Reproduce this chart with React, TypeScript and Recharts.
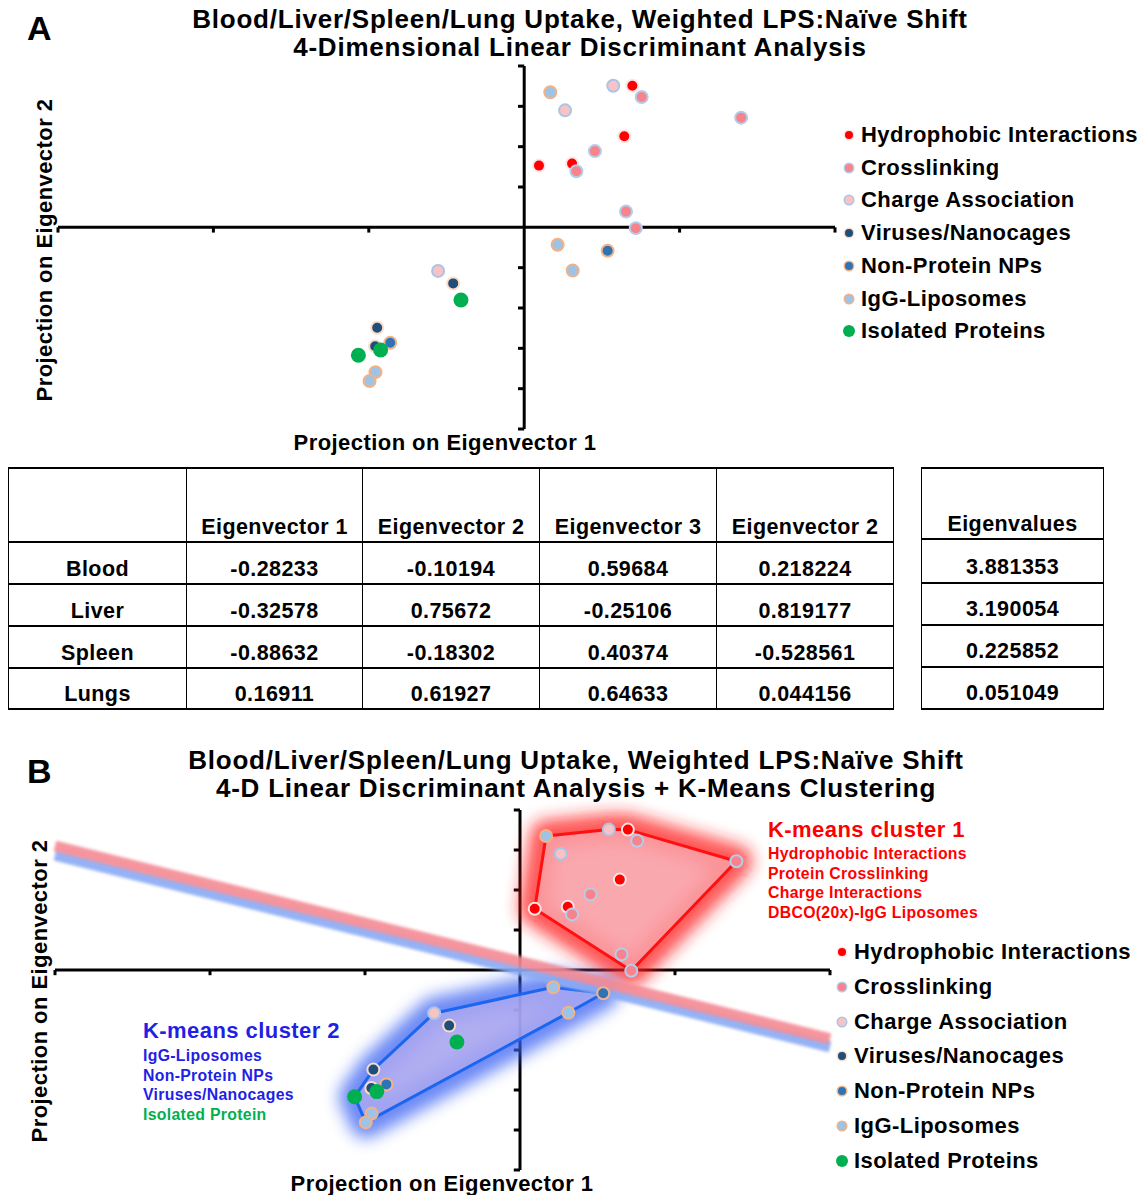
import React from "react";
import { ScatterChart, Scatter, XAxis, YAxis, ReferenceLine } from "recharts";

// projections on eigenvector 1 / 2
const hydrophobic = [
  { x: 0.696, y: 3.51 }, { x: 0.644, y: 2.26 }, { x: 0.095, y: 1.53 }, { x: 0.308, y: 1.58 },
];
const crosslinking = [
  { x: 0.756, y: 3.23 }, { x: 1.396, y: 2.72 }, { x: 0.455, y: 1.89 },
  { x: 0.336, y: 1.39 }, { x: 0.655, y: 0.39 }, { x: 0.718, y: -0.02 },
];
const chargeAssociation = [
  { x: 0.573, y: 3.51 }, { x: 0.263, y: 2.9 }, { x: -0.554, y: -1.08 },
];
const viruses = [
  { x: -0.457, y: -1.39 }, { x: -0.946, y: -2.49 }, { x: -0.959, y: -2.95 },
];
const nonProteinNPs = [
  { x: 0.537, y: -0.58 }, { x: -0.862, y: -2.86 },
];
const iggLiposomes = [
  { x: 0.168, y: 3.35 }, { x: 0.215, y: -0.43 }, { x: 0.312, y: -1.07 },
  { x: -0.957, y: -3.59 }, { x: -0.995, y: -3.81 },
];
const isolatedProteins = [
  { x: -0.407, y: -1.8 }, { x: -0.924, y: -3.04 }, { x: -1.067, y: -3.17 },
];

// k-means hulls + boundary
const cluster1Hull = [
  { x: 0.168, y: 3.35 }, { x: 0.573, y: 3.51 }, { x: 0.696, y: 3.51 },
  { x: 1.396, y: 2.72 }, { x: 0.718, y: -0.02 }, { x: 0.095, y: 1.53 },
];
const cluster2Hull = [
  { x: -0.554, y: -1.08 }, { x: 0.215, y: -0.43 }, { x: 0.537, y: -0.58 },
  { x: 0.312, y: -1.07 }, { x: -0.995, y: -3.81 }, { x: -1.067, y: -3.17 },
  { x: -0.946, y: -2.49 },
];
const boundaryRed = [{ x: -3, y: 3.1 }, { x: 2, y: -1.72 }];
const boundaryBlue = [{ x: -3, y: 2.87 }, { x: 2, y: -1.92 }];

const xTicks = [-3, -2, -1, 1, 2];
const yTicks = [-5, -4, -3, -2, -1, 1, 2, 3, 4];

const cluster1Labels = ["Hydrophobic Interactions", "Protein Crosslinking", "Charge Interactions", "DBCO(20x)-IgG Liposomes"];
const cluster2Labels = ["IgG-Liposomes", "Non-Protein NPs", "Viruses/Nanocages"];

// table
const organs = ["Blood", "Liver", "Spleen", "Lungs"];
const vectorHeaders = ["Eigenvector 1", "Eigenvector 2", "Eigenvector 3", "Eigenvector 2"];
const eigenvector1 = ["-0.28233", "-0.32578", "-0.88632", "0.16911"];
const eigenvector2 = ["-0.10194", "0.75672", "-0.18302", "0.61927"];
const eigenvector3 = ["0.59684", "-0.25106", "0.40374", "0.64633"];
const eigenvector4 = ["0.218224", "0.819177", "-0.528561", "0.044156"];
const eigenvalues = ["3.881353", "3.190054", "0.225852", "0.051049"];

const series = [
  { name: "Hydrophobic Interactions", data: hydrophobic, fill: "#ff0000", stroke: "#fde4e6" },
  { name: "Crosslinking", data: crosslinking, fill: "#f7848c", stroke: "#b3cdea" },
  { name: "Charge Association", data: chargeAssociation, fill: "#f9c2c5", stroke: "#a8c5e6" },
  { name: "Viruses/Nanocages", data: viruses, fill: "#1f4e79", stroke: "#fadcc8" },
  { name: "Non-Protein NPs", data: nonProteinNPs, fill: "#2e74b5", stroke: "#f4b48a" },
  { name: "IgG-Liposomes", data: iggLiposomes, fill: "#9dc3e6", stroke: "#f4b183" },
  { name: "Isolated Proteins", data: isolatedProteins, fill: "#00b050", stroke: "none" },
];

const FONT = '"Liberation Sans", Arial, Helvetica, sans-serif';
const bold: React.CSSProperties = { fontFamily: FONT, fontWeight: 700, color: "#000", letterSpacing: "0.02em", whiteSpace: "nowrap" };

const dot = (fill: string, stroke: string) => (p: any) => {
  const green = stroke === "none";
  return (
    <circle cx={p.cx} cy={p.cy} r={green ? 7.5 : 6} fill={fill}
      stroke={green ? "none" : stroke} strokeWidth={2} />
  );
};

const noShape = () => <g />;

const hull = (id: string, line: string, halo: string, inner: string) => (p: any) => {
  const pts = (p.points || []).map((q: any) => `${q.x},${q.y}`).join(" ");
  return (
    <g>
      <defs>
        <filter id={id} x="-40%" y="-40%" width="180%" height="180%">
          <feGaussianBlur stdDeviation="8" />
        </filter>
      </defs>
      <polygon points={pts} fill={inner} stroke={halo} strokeWidth={32} strokeLinejoin="round"
        opacity={0.75} filter={`url(#${id})`} />
      <polygon points={pts} fill={inner} opacity={0.8} />
      <polygon points={pts} fill="none" stroke={line} strokeWidth={3} strokeLinejoin="round" />
    </g>
  );
};

const blurLine = (id: string, color: string) => (p: any) => {
  const pts = p.points || [];
  if (pts.length < 2) return <g />;
  return (
    <g>
      <defs>
        <filter id={id} x="-10%" y="-50%" width="120%" height="200%">
          <feGaussianBlur stdDeviation="1.8" />
        </filter>
      </defs>
      <line x1={pts[0].x} y1={pts[0].y} x2={pts[1].x} y2={pts[1].y}
        stroke={color} strokeWidth={11} opacity={0.9} filter={`url(#${id})`} />
    </g>
  );
};

const Axes = () => (
  <>
    <ReferenceLine x={0} stroke="#000" strokeWidth={3} ifOverflow="visible" />
    <ReferenceLine y={0} stroke="#000" strokeWidth={3} ifOverflow="visible" />
    {xTicks.map((t) => (
      <ReferenceLine key={"xt" + t} segment={[{ x: t, y: 0 }, { x: t, y: -0.13 }]}
        stroke="#000" strokeWidth={3} ifOverflow="visible" />
    ))}
    {yTicks.map((t) => (
      <ReferenceLine key={"yt" + t} segment={[{ x: -0.04, y: t }, { x: 0, y: t }]}
        stroke="#000" strokeWidth={3} ifOverflow="visible" />
    ))}
  </>
);

const Legend = ({ left, top, step }: { left: number; top: number; step: number }) => (
  <div style={{ position: "absolute", left, top }}>
    {series.map((s, i) => {
      const green = s.stroke === "none";
      return (
        <div key={s.name} style={{ position: "absolute", top: i * step, left: 0, height: 0 }}>
          <span style={{
            position: "absolute", left: green ? -6 : -4, top: green ? -6 : -4,
            width: green ? 12 : 8, height: green ? 12 : 8, borderRadius: "50%",
            background: s.fill, boxShadow: green ? "none" : `0 0 0 1.5px ${s.stroke}`,
          }} />
          <span style={{ ...bold, position: "absolute", left: 12, top: -13, fontSize: 22, lineHeight: "26px" }}>
            {s.name}
          </span>
        </div>
      );
    })}
  </div>
);

const Panel = ({ top, height, margin, clusters }: any) => (
  <div style={{ position: "absolute", left: 0, top }}>
    <ScatterChart width={1145} height={height} margin={margin}>
      <XAxis type="number" dataKey="x" domain={[-3, 2]} hide />
      <YAxis type="number" dataKey="y" domain={[-5, 4]} hide />
      {clusters && (
        <Scatter data={cluster1Hull} shape={noShape} isAnimationActive={false}
          line={hull("glowRed", "#ff1010", "#ff1a1a", "#f9a4aa")} />
      )}
      {clusters && (
        <Scatter data={cluster2Hull} shape={noShape} isAnimationActive={false}
          line={hull("glowBlue", "#1a66f0", "#3a62f2", "#aeaaf0")} />
      )}
      {clusters && (
        <Scatter data={boundaryBlue} shape={noShape} isAnimationActive={false}
          line={blurLine("blurBlue", "#8aaaf4")} />
      )}
      {clusters && (
        <Scatter data={boundaryRed} shape={noShape} isAnimationActive={false}
          line={blurLine("blurRed", "#f48a94")} />
      )}
      {Axes()}
      {series.map((s) => (
        <Scatter key={s.name} name={s.name} data={s.data} isAnimationActive={false}
          shape={dot(s.fill, s.stroke)} />
      ))}
    </ScatterChart>
  </div>
);

const cell: React.CSSProperties = {
  ...bold, fontSize: 21.5, textAlign: "center", verticalAlign: "bottom",
  borderLeft: "1px solid #000", borderRight: "1px solid #000",
  borderTop: "2px solid #000", borderBottom: "2px solid #000",
  padding: "0 0 2px 0", lineHeight: "24px", boxSizing: "border-box",
};

const Title = ({ top, center, lines }: { top: number; center: number; lines: string[] }) => (
  <div style={{ position: "absolute", left: center - 500, width: 1000, top, textAlign: "center" }}>
    {lines.map((l) => (
      <div key={l} style={{ ...bold, fontSize: 26, lineHeight: "28px", letterSpacing: "0.03em" }}>{l}</div>
    ))}
  </div>
);

const YLabel = ({ cx, cy }: { cx: number; cy: number }) => (
  <div style={{
    ...bold, position: "absolute", left: cx - 200, top: cy - 13, width: 400, height: 26,
    textAlign: "center", fontSize: 22, lineHeight: "26px", transform: "rotate(-90deg)",
  }}>Projection on Eigenvector 2</div>
);

const XLabel = ({ cx, cy }: { cx: number; cy: number }) => (
  <div style={{
    ...bold, position: "absolute", left: cx - 200, top: cy - 13, width: 400,
    textAlign: "center", fontSize: 22, lineHeight: "26px",
  }}>Projection on Eigenvector 1</div>
);

const subLabel: React.CSSProperties = { ...bold, fontSize: 15.8, lineHeight: "19.7px" };

export default function App() {
  const columns = [eigenvector1, eigenvector2, eigenvector3, eigenvector4];
  const rowH = [42, 42, 42, 41];
  return (
    <div style={{ position: "absolute", left: 0, top: 0, width: 1145, height: 1195, background: "#fff", overflow: "hidden" }}>
      {/* panel A */}
      <div style={{ ...bold, position: "absolute", left: 27, top: 10, fontSize: 34, lineHeight: "36px", letterSpacing: 0 }}>A</div>
      <Title top={5} center={580} lines={["Blood/Liver/Spleen/Lung Uptake, Weighted LPS:Naïve Shift", "4-Dimensional Linear Discriminant Analysis"]} />
      <Panel top={0} height={460} margin={{ top: 66, right: 310, bottom: 31, left: 58 }} clusters={false} />
      <YLabel cx={45} cy={250} />
      <XLabel cx={445} cy={443} />
      <Legend left={849} top={135} step={32.7} />

      {/* table */}
      <table style={{ position: "absolute", left: 8, top: 467, width: 885, borderCollapse: "collapse", tableLayout: "fixed" }}>
        <colgroup>
          <col style={{ width: 178 }} /><col style={{ width: 176 }} /><col style={{ width: 177 }} />
          <col style={{ width: 177 }} /><col style={{ width: 177 }} />
        </colgroup>
        <tbody>
          <tr style={{ height: 74 }}>
            <td style={cell}></td>
            {vectorHeaders.map((h, i) => <td key={i} style={cell}>{h}</td>)}
          </tr>
          {organs.map((o, r) => (
            <tr key={o} style={{ height: rowH[r] }}>
              <td style={cell}>{o}</td>
              {columns.map((c, i) => <td key={i} style={cell}>{c[r]}</td>)}
            </tr>
          ))}
        </tbody>
      </table>
      <table style={{ position: "absolute", left: 921, top: 467, width: 183, borderCollapse: "collapse", tableLayout: "fixed" }}>
        <tbody>
          <tr style={{ height: 71 }}><td style={cell}>Eigenvalues</td></tr>
          {eigenvalues.map((v, r) => (
            <tr key={v} style={{ height: [44, 42, 42, 42][r] }}>
              <td style={{ ...cell, paddingBottom: 3 }}>{v}</td>
            </tr>
          ))}
        </tbody>
      </table>

      {/* panel B */}
      <div style={{ ...bold, position: "absolute", left: 27, top: 753, fontSize: 34, lineHeight: "36px", letterSpacing: 0 }}>B</div>
      <Title top={746} center={576} lines={["Blood/Liver/Spleen/Lung Uptake, Weighted LPS:Naïve Shift", "4-D Linear Discriminant Analysis + K-Means Clustering"]} />
      <Panel top={740} height={455} margin={{ top: 70, right: 315, bottom: 25, left: 55 }} clusters={true} />
      <YLabel cx={40} cy={991} />
      <XLabel cx={442} cy={1184} />
      <Legend left={842} top={952} step={34.8} />

      <div style={{ position: "absolute", left: 768, top: 816 }}>
        <div style={{ ...bold, color: "#ff0000", fontSize: 22, lineHeight: "28px" }}>K-means cluster 1</div>
        {cluster1Labels.map((l) => (
          <div key={l} style={{ ...subLabel, color: "#ff0000" }}>{l}</div>
        ))}
      </div>
      <div style={{ position: "absolute", left: 143, top: 1016 }}>
        <div style={{ ...bold, color: "#1f1fe6", fontSize: 22, lineHeight: "30px" }}>K-means cluster 2</div>
        {cluster2Labels.map((l) => (
          <div key={l} style={{ ...subLabel, color: "#1f1fe6" }}>{l}</div>
        ))}
        <div style={{ ...subLabel, color: "#00b050" }}>Isolated Protein</div>
      </div>
    </div>
  );
}
